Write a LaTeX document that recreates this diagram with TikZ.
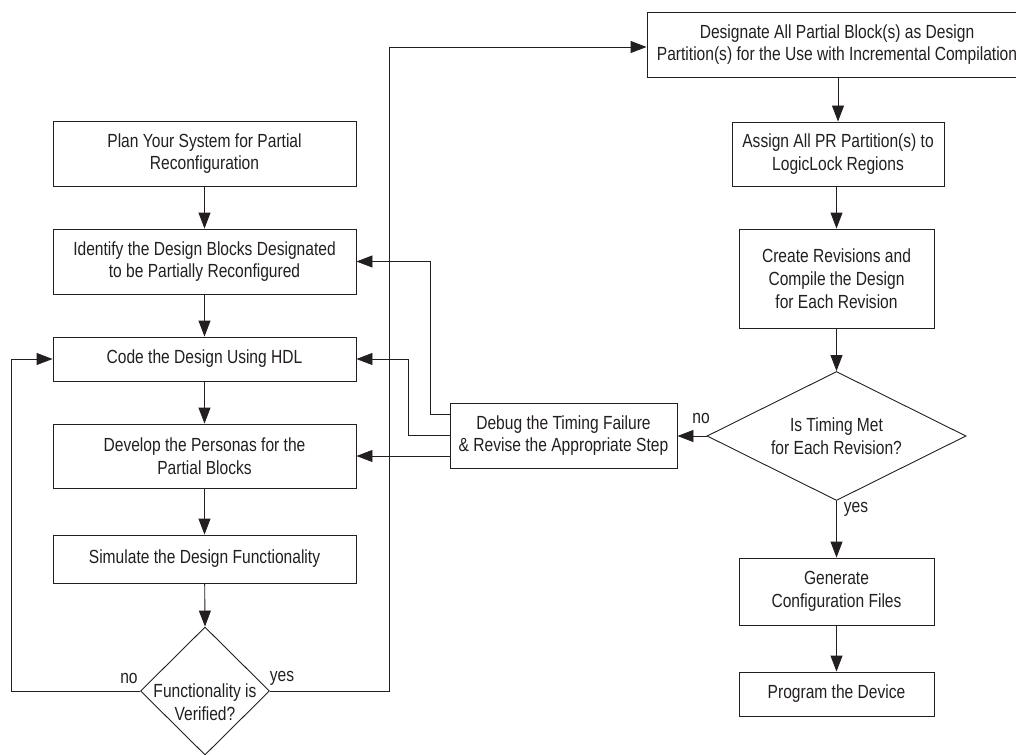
\documentclass[tikz,border=0pt]{standalone}
\usepackage{fontspec}
\setmainfont{Liberation Sans}[FakeStretch=0.82]
\usetikzlibrary{arrows.meta,shapes.geometric,calc}
\definecolor{ink}{RGB}{35,31,32}
\begin{document}
\begin{tikzpicture}[x=1pt,y=-1pt,
  txtfont/.style={font=\fontsize{19}{22.8}\selectfont, text=ink},
  box/.style={draw=ink, line width=0.9pt, rectangle, inner sep=0pt, align=center, txtfont},
  dia/.style={draw=ink, line width=0.9pt, diamond, inner sep=0pt, align=center, txtfont},
  plain/.style={inner sep=0pt, align=center, txtfont},
  arr/.style={draw=ink, line width=0.9pt, -{Triangle[length=16pt,width=12pt]}},
  ln/.style={draw=ink, line width=0.9pt}]
\useasboundingbox (0,0) rectangle (1016,754);
\clip (0,0) rectangle (1016,754);
% left column
\node[box, minimum width=303pt, minimum height=65pt] (plan) at (204.5,153.5) {Plan Your System for Partial\\Reconfiguration};
\node[box, minimum width=303pt, minimum height=65pt] (identify) at (204.5,261.5) {Identify the Design Blocks Designated\\to be Partially Reconfigured};
\node[box, minimum width=303pt, minimum height=44pt] (code) at (204.5,359) {Code the Design Using HDL};
\node[box, minimum width=303pt, minimum height=64pt] (develop) at (204.5,456) {Develop the Personas for the\\Partial Blocks};
\node[box, minimum width=303pt, minimum height=48pt] (simulate) at (204.5,559) {Simulate the Design Functionality};
\node[dia, minimum width=129pt, minimum height=128pt, aspect=1] (func) at (205,691) {};
\node[plain] (functext) at (205,702) {Functionality is\\Verified?};
% right column
\node[box, minimum width=380pt, minimum height=65pt] (designate) at (837,44.5) {Designate All Partial Block(s) as Design\\Partition(s) for the Use with Incremental Compilation};
\node[box, minimum width=212pt, minimum height=64pt] (assign) at (838,154) {Assign All PR Partition(s) to\\LogicLock Regions};
\node[box, minimum width=195pt, minimum height=99pt] (create) at (836.5,278.5) {Create Revisions and\\Compile the Design\\for Each Revision};
\node[dia, minimum width=259pt, minimum height=129pt, aspect=2] (timing) at (836.5,436) {Is Timing Met\\for Each Revision?};
\node[box, minimum width=195pt, minimum height=67pt] (generate) at (836.5,591.5) {Generate\\Configuration Files};
\node[box, minimum width=195pt, minimum height=44pt] (program) at (836.5,694) {Program the Device};
\node[box, minimum width=227pt, minimum height=65pt] (debug) at (563.5,435.5) {Debug the Timing Failure\\\& Revise the Appropriate Step};
% labels
\node[plain] (nofunc) at (129,678) {no};
\node[plain] (yesfunc) at (282,678) {yes};
\node[plain] (notiming) at (701,418) {no};
\node[plain] (yestiming) at (856,509) {yes};
% coordinates
\coordinate (lloop) at (11,691);
\coordinate (rloop) at (389,691);
% connectors
\draw[arr] (plan) -- (identify);
\draw[arr] (identify) -- (code);
\draw[arr] (code) -- (develop);
\draw[arr] (develop) -- (simulate);
\draw[arr] (simulate) -- (func.north);
\draw[arr] (func.west) -- (lloop) |- (code.west);
\draw[arr] (func.east) -- (rloop) |- ([yshift=-2.5pt]designate.west);
\draw[arr] (designate.south -| assign.north) -- (assign);
\draw[arr] (assign.south -| create.north) -- (create);
\draw[arr] (create) -- (timing.north);
\draw[arr] (timing.west) -- (debug.east |- timing.west);
\draw[arr] (timing.south) -- (generate.north);
\draw[arr] (generate) -- (program);
\draw[arr] ([yshift=21.5pt]debug.west) -| ($(identify.east)+(74,0)$) -- (identify.east);
\draw[arr] (debug.west) -| ($(code.east)+(52,0)$) -- (code.east);
\draw[arr] ([yshift=-20.5pt]debug.west) -- (develop.east);
\end{tikzpicture}
\end{document}
